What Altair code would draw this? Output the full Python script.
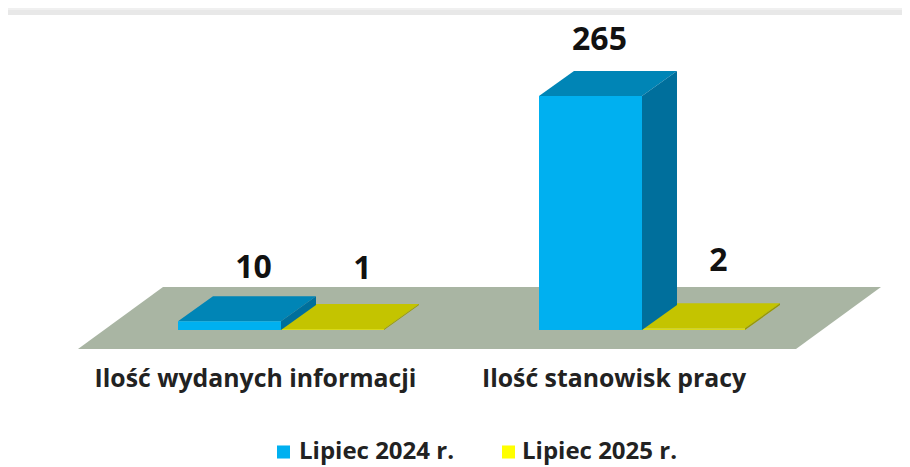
import altair as alt
import pandas as pd

categories = ["Ilość wydanych informacji", "Ilość stanowisk pracy"]
series_names = ["Lipiec 2024 r.", "Lipiec 2025 r."]
values_2024 = [10, 265]
values_2025 = [1, 2]

W, H = 894, 459
K = 0.883          # px per data unit
BASE = 330         # page y of value 0
DX, DY = 35, 25    # depth of the bars
BAR_W = 103
GROUP_X = [178, 539]
label_dx = [[24, 30], [9, 25]]      # value label shift from front-face centre, px
label_dy = [[28, 35], [31, 42]]     # value label lift above the back edge, px


def vy(px):
    return (BASE - px) / K


FACE = [
    {"front": "#00B0F0", "top": "#0085B6", "side": "#006F9C"},
    {"front": "#D9D91A", "top": "#C4C400", "side": "#9A9A00"},
]
LEGEND_COLORS = ["#00B0F0", "#FFFF00"]

rows = []
labels = []


def poly(name, color, pts):
    idx = len({r["poly"] for r in rows})
    pid = f"{idx:02d}{name}"
    for x, lo, hi in pts:
        rows.append({"poly": pid, "fillc": color, "px": x, "lo": lo, "hi": hi})


poly("band1", "#F0F0F0", [(8, vy(8), vy(10)), (902, vy(8), vy(10))])
poly("band2", "#E8E8E8", [(8, vy(10), vy(15)), (902, vy(10), vy(15))])
poly("floor", "#A9B5A3", [
    (78, vy(349), vy(349)), (163, vy(349), vy(287)),
    (796, vy(349), vy(287)), (881, vy(287), vy(287)),
])


def bar(name, x0, value, c):
    d = DY / K
    x1 = x0 + BAR_W
    poly(name + "top", c["top"], [
        (x0, value, value), (x0 + DX, value, value + d),
        (x1, value, value + d), (x1 + DX, value + d, value + d),
    ])
    poly(name + "side", c["side"], [(x1, 0, value), (x1 + DX, d, value + d)])
    poly(name + "front", c["front"], [(x0, 0, value), (x1, 0, value)])


for g, x0 in enumerate(GROUP_X):
    bar(f"y{g}", x0 + BAR_W, values_2025[g], FACE[1])
    bar(f"b{g}", x0, values_2024[g], FACE[0])
    for s, v in enumerate([values_2024[g], values_2025[g]]):
        labels.append({
            "lx": x0 + s * BAR_W + BAR_W / 2 + label_dx[g][s],
            "ly": v + (DY + label_dy[g][s]) / K,
            "text": str(v),
        })

df = pd.DataFrame(rows)

x_scale = alt.Scale(domain=[8, 8 + W], range=[0, W], nice=False, zero=False)
y_scale = alt.Scale(domain=[vy(8 + H), vy(8)], range=[H, 0], nice=False, zero=False)
X = lambda f: alt.X(f, type="quantitative", scale=x_scale, axis=None)
Y = lambda f: alt.Y(f, type="quantitative", scale=y_scale, axis=None)

polys = alt.Chart(df).mark_area(orient="vertical", opacity=1).encode(
    x=X("px"), y=Y("hi"), y2=alt.Y2("lo"),
    fill=alt.Fill("fillc:N", scale=None),
    detail="poly:N",
)

FONT = "Open Sans"
val_text = alt.Chart(pd.DataFrame(labels)).mark_text(
    font=FONT, fontWeight="bold", fontSize=32, color="#111111", baseline="middle", align="center"
).encode(x=X("lx"), y=Y("ly"), text="text:N")

cat_df = pd.DataFrame({"lx": [255.5, 614], "ly": [vy(380)] * 2, "text": categories})
cat_text = alt.Chart(cat_df).mark_text(
    font=FONT, fontWeight="bold", fontSize=24.8, color="#222222", baseline="middle", align="center"
).encode(x=X("lx"), y=Y("ly"), text="text:N")

leg_df = pd.DataFrame({
    "sx": [283.5, 508.5], "tx": [299, 522], "ly": [vy(452)] * 2,
    "text": series_names, "c": LEGEND_COLORS,
})
leg_sq = alt.Chart(leg_df).mark_square(size=170, opacity=1, filled=True).encode(
    x=X("sx"), y=Y("ly"), color=alt.Color("c:N", scale=None)
)
leg_text = alt.Chart(leg_df).mark_text(
    font=FONT, fontWeight="bold", fontSize=24, color="#222222", baseline="middle", align="left"
).encode(x=X("tx"), y=Y("ly"), text="text:N")

chart = alt.layer(polys, val_text, cat_text, leg_sq, leg_text).properties(
    width=W, height=H, padding=0, background="white",
    autosize=alt.AutoSizeParams(type="none"),
).configure_view(stroke=None)

chart.save("out.html", embed_options={"renderer": "svg", "actions": False})
